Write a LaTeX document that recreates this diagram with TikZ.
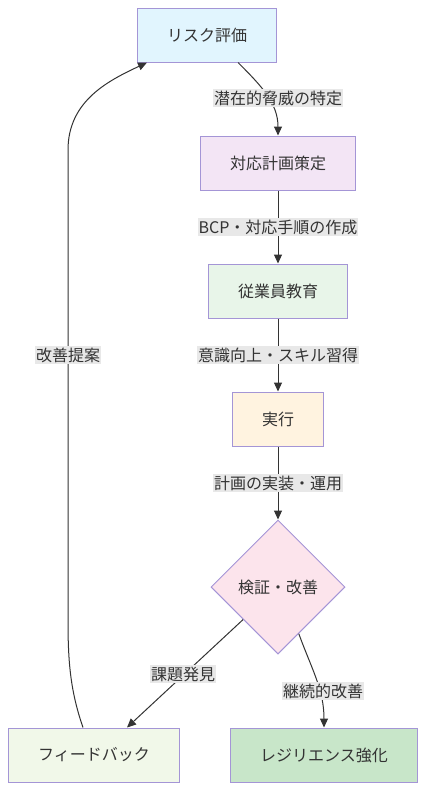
\documentclass[tikz,border=0pt]{standalone}
\usepackage{fontspec}
\setmainfont{Noto Sans CJK JP}
\usetikzlibrary{positioning,shapes.geometric,arrows.meta}

\definecolor{boxline}{HTML}{A495D6}
\definecolor{edge}{HTML}{333333}
\definecolor{txt}{HTML}{333333}
\definecolor{lblbg}{HTML}{E8E8E8}
\definecolor{cRisk}{HTML}{E1F5FE}
\definecolor{cPlan}{HTML}{F3E5F5}
\definecolor{cEdu}{HTML}{E8F5E9}
\definecolor{cDo}{HTML}{FFF3E0}
\definecolor{cCheck}{HTML}{FCE4EC}
\definecolor{cFb}{HTML}{F1F8E9}
\definecolor{cRes}{HTML}{C8E6C9}

\begin{document}
\begin{tikzpicture}[x=1pt, y=-1pt,
  box/.style={draw=boxline, line width=1pt, minimum height=54pt, inner xsep=29.5pt, text=txt, font=\fontsize{16}{19}\selectfont},
  lbl/.style={fill=lblbg, inner xsep=1pt, inner ysep=2pt, text=txt, font=\fontsize{16}{19}\selectfont},
  flow/.style={draw=edge, line width=1pt, -{Triangle[length=9pt,width=8pt]}}]

\useasboundingbox (0,0) rectangle (426,790);

\node[box, fill=cRisk] (risk) at (207,35) {リスク評価};
\node[box, fill=cPlan] (plan) at (278,163) {対応計画策定};
\node[box, fill=cEdu] (edu) at (278,291) {従業員教育};
\node[box, fill=cDo] (run) at (278,419) {実行};
\node[box, diamond, aspect=1, minimum size=134pt, inner sep=0pt, fill=cCheck] (check) at (278,587) {検証・改善};
\node[box, fill=cFb] (fb) at (94,755) {フィードバック};
\node[box, fill=cRes] (res) at (324,755) {レジリエンス強化};

\draw[flow] ([xshift=31pt]risk.south) to[out=-45, in=90] (plan.north);
\node[lbl] (lthreat) at (278,98) {潜在的脅威の特定};
\draw[flow] (plan) -- node[lbl] (lbcp) {BCP・対応手順の作成} (edu);
\draw[flow] (edu) -- node[lbl] (lskill) {意識向上・スキル習得} (run);
\draw[flow] (run) -- node[lbl] (lops) {計画の実装・運用} (check);

\draw[flow] (check.-137) -- ([xshift=33pt]fb.north);
\node[lbl] (lissue) at (183,674) {課題発見};
\draw[flow] (check.-66) to[out=-70, in=90] (res.north);
\node[lbl] (lcont) at (323,691) {継続的改善};

\draw[flow] ([xshift=-11pt]fb.north) .. controls (70,690) and (68,660) .. (68,620) -- (68,150) .. controls (68,100) and (110,80) .. ([xshift=-60pt]risk.south);
\node[lbl] (lfix) at (68,355) {改善提案};

\end{tikzpicture}
\end{document}
